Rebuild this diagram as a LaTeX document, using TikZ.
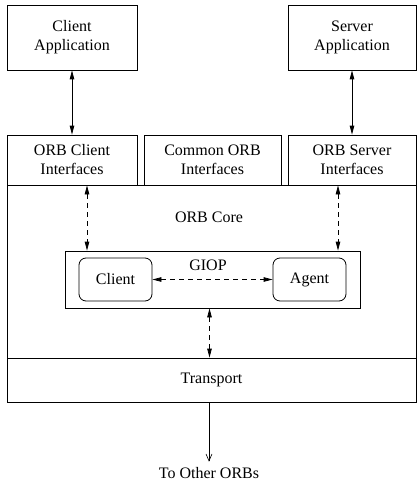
\documentclass[tikz,border=0pt]{standalone}
\usepackage{fontspec}
\setmainfont{Liberation Serif}
\usetikzlibrary{arrows.meta}
\begin{document}
\begin{tikzpicture}[x=1pt,y=-1pt,
  every node/.style={font=\fontsize{16}{19}\selectfont},
  box/.style={draw,line width=0.8pt,minimum width=#1,inner sep=0pt,align=center},
  rbox/.style={draw,line width=0.8pt,rounded corners=7pt,minimum width=73pt,minimum height=43pt,inner sep=0pt},
  lbl/.style={inner sep=1pt},
  solidarr/.style={line width=0.8pt,{Triangle[length=9pt,width=4.5pt]}-{Triangle[length=9pt,width=4.5pt]}},
  dasharr/.style={solidarr,dash pattern=on 5pt off 4pt},
  outarr/.style={line width=0.6pt,-{Straight Barb[length=7pt,width=6pt]}}
]
\useasboundingbox (0,0) rectangle (417,484);
% top application boxes
\node[box=130pt,minimum height=65pt] (ca) at (72,37.5) {Client\\Application};
\node[box=128pt,minimum height=65pt] (sa) at (352,37.5) {Server\\Application};
% ORB core and transport
\node[box=409pt,minimum height=173pt] (core) at (211.5,271.5) {};
\node[box=409pt,minimum height=44pt] (tr) at (211.5,380) {Transport};
% interface boxes
\node[box=130pt,minimum height=50pt,fill=white] (oci) at (72,160) {ORB Client\\Interfaces};
\node[box=137pt,minimum height=50pt,fill=white] (coi) at (212.5,160) {Common ORB\\Interfaces};
\node[box=128pt,minimum height=50pt,fill=white] (osi) at (352,160) {ORB Server\\Interfaces};
\node[lbl] (corelbl) at (209,217) {ORB Core};
% GIOP
\node[box=295pt,minimum height=57pt] (giop) at (212.5,279.5) {};
\node[lbl] (giopl) at (208,265) {GIOP};
\node[rbox] (cl) at (115.5,279.5) {Client};
\node[rbox] (ag) at (309.5,279.5) {Agent};
\node[lbl] (out) at (209,473.5) {To Other ORBs};
% connectors
\draw[solidarr] (ca.south) -- (oci.north);
\draw[solidarr] (sa.south) -- (osi.north);
\draw[dasharr] ([xshift=15pt]oci.south) -- ([xshift=15pt]oci.south |- giop.north);
\draw[dasharr] ([xshift=-14pt]osi.south) -- ([xshift=-14pt]osi.south |- giop.north);
\draw[dasharr] (cl.east) -- (ag.west);
\draw[dasharr] ([xshift=-3pt]giop.south) -- ([xshift=-3pt]giop.south |- tr.north);
\draw[outarr,shorten >=5pt] ([xshift=-2.5pt]tr.south) -- ([xshift=-2.5pt]tr.south |- out.north);
\end{tikzpicture}
\end{document}
